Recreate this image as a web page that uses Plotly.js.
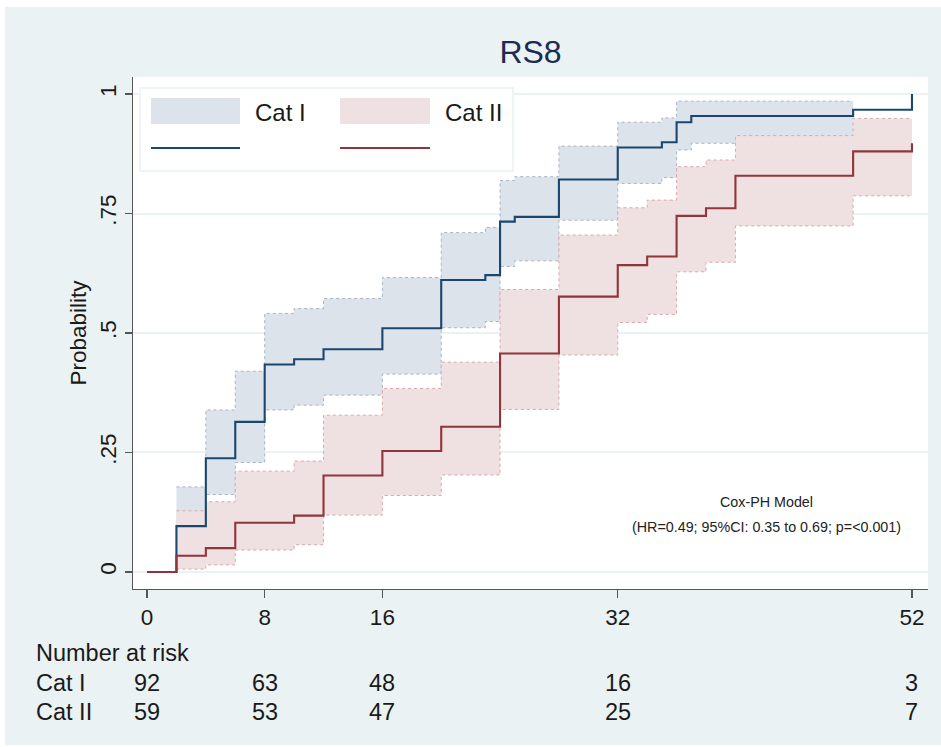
<!DOCTYPE html>
<html>
<head>
<meta charset="utf-8">
<script src="https://cdn.plot.ly/plotly-3.0.1.min.js"></script>
<style>
  html, body { margin: 0; padding: 0; background: #ffffff; }
  #chart { position: absolute; left: 5px; top: 7px; width: 936px; height: 738px; }
</style>
</head>
<body>
<div id="chart"></div>
<script>
// Cumulative probability by group (step functions), with 95% confidence bands
const timesCatI = [0, 2, 4, 6, 8, 10, 12, 16, 20, 23, 24, 25, 28, 32, 35, 36, 37, 48, 52];
const probCatI  = [0, 0.096, 0.238, 0.314, 0.434, 0.445, 0.466, 0.510, 0.611, 0.621, 0.733, 0.743, 0.821, 0.888, 0.899, 0.941, 0.954, 0.967, 1.0];

const ciTimesCatI = [2, 4, 6, 8, 10, 12, 16, 20, 23, 24, 25, 28, 32, 35, 36, 37];
const ciLowCatI   = [0.050, 0.162, 0.229, 0.339, 0.349, 0.370, 0.414, 0.511, 0.524, 0.639, 0.651, 0.736, 0.813, 0.825, 0.883, 0.897];
const ciHighCatI  = [0.178, 0.339, 0.420, 0.541, 0.551, 0.572, 0.616, 0.710, 0.721, 0.819, 0.827, 0.891, 0.941, 0.950, 0.985, 0.985];
const ciEndCatI = 48;

const timesCatII = [0, 2, 4, 6, 10, 12, 16, 20, 24, 28, 32, 34, 36, 38, 40, 48, 52];
const probCatII  = [0, 0.034, 0.050, 0.103, 0.118, 0.202, 0.253, 0.304, 0.457, 0.576, 0.642, 0.660, 0.745, 0.761, 0.829, 0.880, 0.897];

const ciTimesCatII = [2, 4, 6, 10, 12, 16, 20, 24, 28, 32, 34, 36, 38, 40, 48];
const ciLowCatII   = [0.006, 0.015, 0.046, 0.057, 0.119, 0.160, 0.203, 0.340, 0.454, 0.522, 0.539, 0.628, 0.648, 0.724, 0.787];
const ciHighCatII  = [0.128, 0.147, 0.211, 0.232, 0.328, 0.384, 0.439, 0.591, 0.705, 0.762, 0.778, 0.848, 0.862, 0.913, 0.949];
const ciEndCatII = 52;

// Number-at-risk table
const riskTimes = [0, 8, 16, 32, 52];
const riskCatI  = [92, 63, 48, 16, 3];
const riskCatII = [59, 53, 47, 25, 7];
const groupNames = ['Cat I', 'Cat II'];

const xTicks = [0, 8, 16, 32, 52];
const yTicks = [0, 0.25, 0.5, 0.75, 1];
const yTickText = ['0', '.25', '.5', '.75', '1'];

const coxLine1 = 'Cox-PH Model';
const coxLine2 = '(HR=0.49; 95%CI: 0.35 to 0.69; p=<0.001)';

// colours
const BG = '#eaf2f3';
const BLUE = '#1a476f';
const RED = '#90353b';
const BLUE_FILL = '#dde3ea';
const RED_FILL = '#efe0e1';
const BLUE_EDGE = '#a7b4c3';
const RED_EDGE = '#d7a9ac';
const FONT = 'Liberation Sans, Arial, Helvetica, sans-serif';

function extend(times, vals, end) {
  return { x: times.concat([end]), y: vals.concat([vals[vals.length - 1]]) };
}

function bandTraces(times, lo, hi, end, fill, edge) {
  const l = extend(times, lo, end);
  const h = extend(times, hi, end);
  return [
    { x: l.x, y: l.y, type: 'scatter', mode: 'lines', line: { shape: 'hv', color: edge, width: 1, dash: 'dot' },
      hoverinfo: 'skip', showlegend: false },
    { x: h.x, y: h.y, type: 'scatter', mode: 'lines', fill: 'tonexty', fillcolor: fill,
      line: { shape: 'hv', color: edge, width: 1, dash: 'dot' }, hoverinfo: 'skip', showlegend: false }
  ];
}

// plot-area geometry within the div (for paper-coordinate helpers)
const M = { l: 128, r: 13, t: 70, b: 156 };
const W = 936, H = 738;
const PW = W - M.l - M.r, PH = H - M.t - M.b;
const PX = ax => (ax - 5 - M.l) / PW;          // page x -> paper x
const PY = ay => (H - M.b - (ay - 7)) / PH;    // page y -> paper y

const traces = []
  .concat(bandTraces(ciTimesCatI, ciLowCatI, ciHighCatI, ciEndCatI, BLUE_FILL, BLUE_EDGE))
  .concat(bandTraces(ciTimesCatII, ciLowCatII, ciHighCatII, ciEndCatII, RED_FILL, RED_EDGE))
  .concat([
    { x: timesCatI, y: probCatI, type: 'scatter', mode: 'lines', name: groupNames[0],
      line: { shape: 'hv', color: BLUE, width: 2.1 }, showlegend: false },
    { x: timesCatII, y: probCatII, type: 'scatter', mode: 'lines', name: groupNames[1],
      line: { shape: 'hv', color: RED, width: 2.1 }, showlegend: false }
  ]);

const tableFont = { family: FONT, size: 23.5, color: '#1a1a1a' };
const legendFont = { family: FONT, size: 24, color: '#1a1a1a' };
const noteFont = { family: FONT, size: 14.3, color: '#222' };
const annotations = [];

// legend drawn as a 2x2 key
annotations.push({ xref: 'paper', yref: 'paper', x: PX(253), y: PY(112), xanchor: 'left', yanchor: 'middle',
  text: groupNames[0], showarrow: false, font: legendFont });
annotations.push({ xref: 'paper', yref: 'paper', x: PX(443), y: PY(112), xanchor: 'left', yanchor: 'middle',
  text: groupNames[1], showarrow: false, font: legendFont });

// model note
annotations.push({ xref: 'paper', yref: 'paper', x: PX(766), y: PY(502), xanchor: 'center', yanchor: 'middle',
  text: coxLine1, showarrow: false, font: noteFont });
annotations.push({ xref: 'paper', yref: 'paper', x: PX(766), y: PY(527), xanchor: 'center', yanchor: 'middle',
  text: coxLine2, showarrow: false, font: noteFont });

// number at risk
annotations.push({ xref: 'paper', yref: 'paper', x: PX(34), y: PY(653), xanchor: 'left', yanchor: 'middle',
  text: 'Number at risk', showarrow: false, font: tableFont });
annotations.push({ xref: 'paper', yref: 'paper', x: PX(34), y: PY(683), xanchor: 'left', yanchor: 'middle',
  text: groupNames[0], showarrow: false, font: tableFont });
annotations.push({ xref: 'paper', yref: 'paper', x: PX(34), y: PY(712), xanchor: 'left', yanchor: 'middle',
  text: groupNames[1], showarrow: false, font: tableFont });
riskTimes.forEach((t, i) => {
  annotations.push({ xref: 'x', yref: 'paper', x: t, y: PY(683), xanchor: 'center', yanchor: 'middle',
    text: String(riskCatI[i]), showarrow: false, font: tableFont });
  annotations.push({ xref: 'x', yref: 'paper', x: t, y: PY(712), xanchor: 'center', yanchor: 'middle',
    text: String(riskCatII[i]), showarrow: false, font: tableFont });
});

const shapes = [
  // legend frame
  { type: 'rect', xref: 'paper', yref: 'paper', x0: PX(140), x1: PX(513), y0: PY(171), y1: PY(88),
    fillcolor: '#ffffff', line: { color: BG, width: 1.5 }, layer: 'above' },
  { type: 'rect', xref: 'paper', yref: 'paper', x0: PX(151), x1: PX(240), y0: PY(124), y1: PY(98),
    fillcolor: BLUE_FILL, line: { width: 0 }, layer: 'above' },
  { type: 'rect', xref: 'paper', yref: 'paper', x0: PX(340), x1: PX(430), y0: PY(124), y1: PY(98),
    fillcolor: RED_FILL, line: { width: 0 }, layer: 'above' },
  { type: 'line', xref: 'paper', yref: 'paper', x0: PX(151), x1: PX(240), y0: PY(148), y1: PY(148),
    line: { color: BLUE, width: 2 }, layer: 'above' },
  { type: 'line', xref: 'paper', yref: 'paper', x0: PX(340), x1: PX(430), y0: PY(148), y1: PY(148),
    line: { color: RED, width: 2 }, layer: 'above' }
];

const layout = {
  width: W, height: H,
  margin: M,
  paper_bgcolor: BG,
  plot_bgcolor: '#ffffff',
  showlegend: false,
  title: { text: 'RS8', x: 0.5, xref: 'paper', y: 1 - (52 - 7) / H, yref: 'container', yanchor: 'middle',
    font: { family: FONT, size: 32, color: '#1c2b54' } },
  xaxis: {
    range: [-0.952, 53.09], tickvals: xTicks, ticktext: xTicks.map(String),
    showgrid: false, zeroline: false, showline: true, linecolor: '#555', linewidth: 1.3,
    ticks: 'outside', ticklen: 8, tickcolor: '#555', tickwidth: 1.3,
    tickfont: { family: FONT, size: 22.5, color: '#1a1a1a' }, fixedrange: true
  },
  yaxis: {
    range: [-0.0356, 1.0356], tickvals: yTicks, ticktext: yTickText, tickangle: -90,
    showgrid: true, gridcolor: BG, gridwidth: 2, zeroline: false,
    showline: true, linecolor: '#555', linewidth: 1.3,
    ticks: 'outside', ticklen: 7, tickcolor: '#555', tickwidth: 1.3,
    tickfont: { family: FONT, size: 22.5, color: '#1a1a1a' },
    title: { text: 'Probability', font: { family: FONT, size: 22.5, color: '#1a1a1a' }, standoff: 2 },
    fixedrange: true
  },
  annotations: annotations,
  shapes: shapes
};

Plotly.newPlot('chart', traces, layout, { displayModeBar: false, staticPlot: true });
</script>
</body>
</html>
